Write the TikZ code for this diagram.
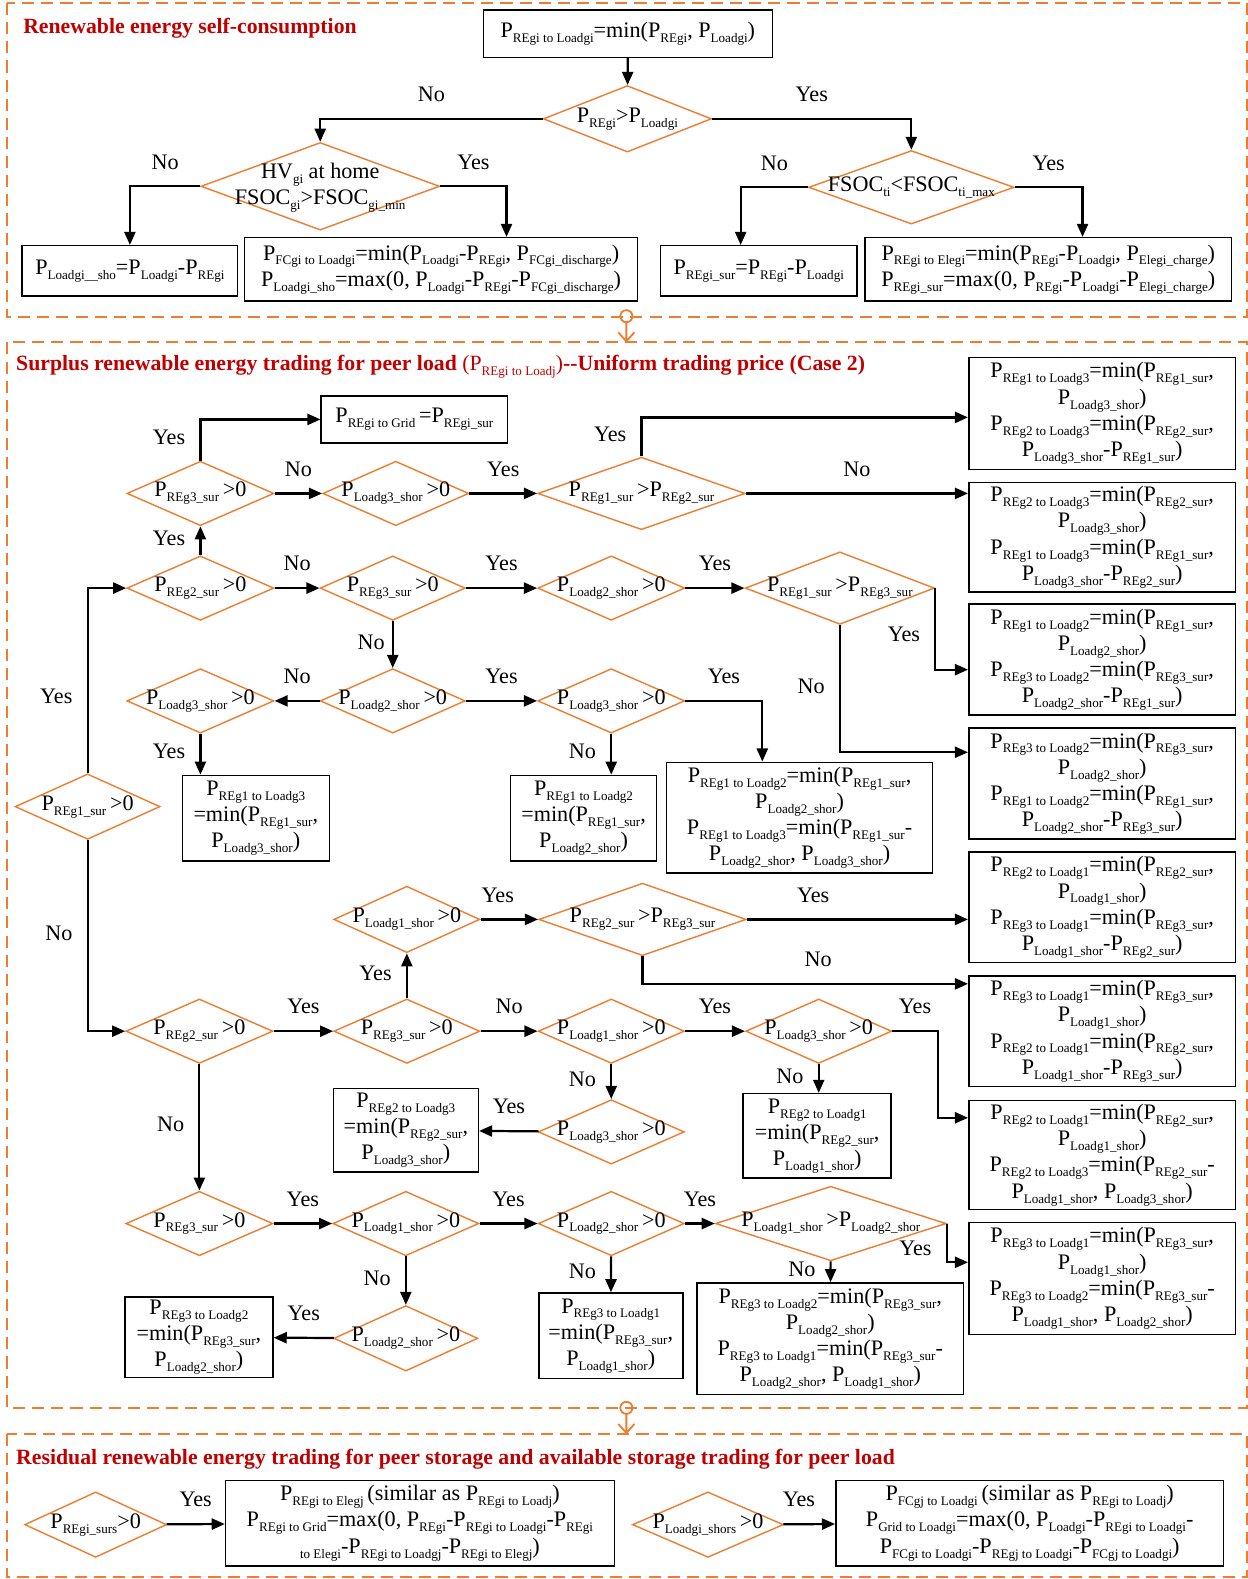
\documentclass[tikz,border=0pt]{standalone}
\usepackage{fontspec}
\setmainfont{Liberation Serif}
\usetikzlibrary{shapes.geometric,arrows.meta}

\definecolor{frameorange}{RGB}{237,125,49}
\definecolor{titlered}{RGB}{192,0,0}

\newcommand{\lowsub}[1]{\raisebox{-0.22em}{\fontsize{13}{13}\selectfont #1}}
\newcommand{\Pv}[1]{P\lowsub{#1}}
\newcommand{\dtext}[1]{\makebox[0pt]{#1}}

\tikzset{
  txt/.style={font=\fontsize{22}{26}\selectfont},
  dec/.style 2 args={diamond, draw=frameorange, line width=1.4pt, minimum width=#1, minimum height=#2, inner sep=0pt, txt},
  cbox/.style 2 args={draw, line width=1.5pt, minimum width=#1, minimum height=#2, inner sep=0pt, align=center, txt},
  lbl/.style={txt, inner sep=2pt, text height=14pt, text depth=5pt},
  secframe/.style={draw=frameorange, line width=1.8pt, dash pattern=on 12pt off 7pt},
  link/.style={draw=frameorange, line width=1.8pt},
  sectitle/.style={anchor=base west, text=titlered, inner sep=0pt, font=\fontsize{21.6}{26}\selectfont\bfseries},
}

\begin{document}
\begin{tikzpicture}[x=1pt, y=-1pt, line width=2.2pt, >={Triangle[length=13pt,width=11pt]}]
\useasboundingbox (0,0) rectangle (1239,1568);

% frames and links between them
\draw[secframe] (7,3) rectangle (1238,315);
\draw[secframe] (7,340) rectangle (1238,1398);
\draw[secframe] (7,1424) rectangle (1238,1566);
\draw[link] (622,314) circle[radius=6pt] (622,320) -- (622,339) (614,330) -- (622,339) -- (630,330);
\draw[link] (622,1398) circle[radius=6pt] (622,1404) -- (622,1423) (614,1414) -- (622,1423) -- (630,1414);

% Renewable energy self-consumption
\node[sectitle] (t1) at (22,33) {Renewable energy self-consumption};
\node[cbox={287}{47}] (a1) at (623.5,33.5) {\Pv{REgi to Loadgi}=min(\Pv{REgi}, \Pv{Loadgi})};
\node[dec={167}{66}] (d1) at (623,118) {\dtext{\Pv{REgi}>\Pv{Loadgi}}};
\node[dec={237}{87}] (d2) at (318,185) {\dtext{\begin{tabular}{@{}c@{}}HV\lowsub{gi} at home\\ FSOC\lowsub{gi}>FSOC\lowsub{gi\_min}\end{tabular}}};
\node[dec={204}{73}] (d3) at (905,186) {\dtext{FSOC\lowsub{ti}<FSOC\lowsub{ti\_max}}};
\node[cbox={214}{50}] (b1) at (129,269) {\Pv{Loadgi\_\_sho}=\Pv{Loadgi}-\Pv{REgi}};
\node[cbox={390}{63}] (b2) at (438,267.5) {\Pv{FCgi to Loadgi}=min(\Pv{Loadgi}-\Pv{REgi}, \Pv{FCgi\_discharge})\\ \Pv{Loadgi\_sho}=max(0, \Pv{Loadgi}-\Pv{REgi}-\Pv{FCgi\_discharge})};
\node[cbox={195}{50}] (b3) at (753.5,269) {\Pv{REgi\_sur}=\Pv{REgi}-\Pv{Loadgi}};
\node[cbox={364}{63}] (b4) at (1041,267.5) {\Pv{REgi to Elegi}=min(\Pv{REgi}-\Pv{Loadgi}, \Pv{Elegi\_charge})\\ \Pv{REgi\_sur}=max(0, \Pv{REgi}-\Pv{Loadgi}-\Pv{Elegi\_charge})};

\draw[->] (a1) -- (d1);
\draw[->] (d1.west) -| node[lbl,pos=.25,above=9pt]{No} (d2.north);
\draw[->] (d1.east) -| node[lbl,pos=.25,above=9pt]{Yes} (d3.north);
\draw[->] (d2.west) -| node[lbl,pos=.25,above=9pt]{No} (b1.north);
\draw[->] (d2.east) -| node[lbl,pos=.25,above=9pt]{Yes} ([xshift=65pt]b2.north);
\draw[->] (d3.west) -| node[lbl,pos=.25,above=9pt]{No} ([xshift=-18pt]b3.north);
\draw[->] (d3.east) -| node[lbl,pos=.25,above=9pt]{Yes} ([xshift=34pt]b4.north);

% Surplus renewable energy trading for peer load
\node[sectitle] (t2) at (15,368) {Surplus renewable energy trading for peer load {\mdseries(\Pv{REgi to Loadj})}-{}-Uniform trading price (Case 2)};
\node[dec={144}{65}] (r1s) at (87,801) {\dtext{\Pv{REg1\_sur}\,>0}};
\node[dec={146}{64}] (r2a) at (199,584) {\dtext{\Pv{REg2\_sur}\,>0}};
\node[dec={146}{64}] (r3a) at (199,490) {\dtext{\Pv{REg3\_sur}\,>0}};
\node[dec={145}{64}] (l3a) at (393,490) {\dtext{\Pv{Loadg3\_shor}\,>0}};
\node[dec={206}{72}] (c12) at (637,490) {\dtext{\Pv{REg1\_sur}\,>\Pv{REg2\_sur}}};
\node[dec={144}{64}] (r3b) at (390,584) {\dtext{\Pv{REg3\_sur}\,>0}};
\node[dec={146}{64}] (l2a) at (607,584) {\dtext{\Pv{Loadg2\_shor}\,>0}};
\node[dec={188}{72}] (c13) at (834,584) {\dtext{\Pv{REg1\_sur}\,>\Pv{REg3\_sur}}};
\node[dec={144}{64}] (l2b) at (390,696) {\dtext{\Pv{Loadg2\_shor}\,>0}};
\node[dec={146}{64}] (l3b) at (199,696) {\dtext{\Pv{Loadg3\_shor}\,>0}};
\node[dec={146}{64}] (l3c) at (607,696) {\dtext{\Pv{Loadg3\_shor}\,>0}};
\node[dec={146}{64}] (r2b) at (198,1024) {\dtext{\Pv{REg2\_sur}\,>0}};
\node[dec={145}{64}] (r3c) at (404,1024) {\dtext{\Pv{REg3\_sur}\,>0}};
\node[dec={145}{66}] (l1a) at (404,913) {\dtext{\Pv{Loadg1\_shor}\,>0}};
\node[dec={206}{72}] (c23) at (638,913) {\dtext{\Pv{REg2\_sur}\,>\Pv{REg3\_sur}}};
\node[dec={145}{64}] (l1b) at (607,1024) {\dtext{\Pv{Loadg1\_shor}\,>0}};
\node[dec={145}{64}] (l3d) at (813,1024) {\dtext{\Pv{Loadg3\_shor}\,>0}};
\node[dec={145}{64}] (l3e) at (607,1124) {\dtext{\Pv{Loadg3\_shor}\,>0}};
\node[dec={146}{64}] (r3d) at (198,1215) {\dtext{\Pv{REg3\_sur}\,>0}};
\node[dec={145}{64}] (l1c) at (403,1215) {\dtext{\Pv{Loadg1\_shor}\,>0}};
\node[dec={145}{64}] (l2c) at (607,1215) {\dtext{\Pv{Loadg2\_shor}\,>0}};
\node[dec={229}{74}] (cl12) at (825,1215) {\dtext{\Pv{Loadg1\_shor}\,>\Pv{Loadg2\_shor}}};
\node[dec={143}{65}] (l2d) at (403,1329) {\dtext{\Pv{Loadg2\_shor}\,>0}};

\node[cbox={185}{47}] (grid) at (411.5,416.5) {\Pv{REgi to Grid}\,=\Pv{REgi\_sur}};
\node[cbox={265}{111}] (bx1) at (1094.5,410.5) {\Pv{REg1 to Loadg3}=min(\Pv{REg1\_sur},\\ \Pv{Loadg3\_shor})\\ \Pv{REg2 to Loadg3}=min(\Pv{REg2\_sur},\\ \Pv{Loadg3\_shor}-\Pv{REg1\_sur})};
\node[cbox={265}{109}] (bx2) at (1094.5,533.5) {\Pv{REg2 to Loadg3}=min(\Pv{REg2\_sur},\\ \Pv{Loadg3\_shor})\\ \Pv{REg1 to Loadg3}=min(\Pv{REg1\_sur},\\ \Pv{Loadg3\_shor}-\Pv{REg2\_sur})};
\node[cbox={265}{110}] (bx3) at (1094.5,655) {\Pv{REg1 to Loadg2}=min(\Pv{REg1\_sur},\\ \Pv{Loadg2\_shor})\\ \Pv{REg3 to Loadg2}=min(\Pv{REg3\_sur},\\ \Pv{Loadg2\_shor}-\Pv{REg1\_sur})};
\node[cbox={265}{110}] (bx4) at (1094.5,778) {\Pv{REg3 to Loadg2}=min(\Pv{REg3\_sur},\\ \Pv{Loadg2\_shor})\\ \Pv{REg1 to Loadg2}=min(\Pv{REg1\_sur},\\ \Pv{Loadg2\_shor}-\Pv{REg3\_sur})};
\node[cbox={265}{110}] (bx5) at (1094.5,901) {\Pv{REg2 to Loadg1}=min(\Pv{REg2\_sur},\\ \Pv{Loadg1\_shor})\\ \Pv{REg3 to Loadg1}=min(\Pv{REg3\_sur},\\ \Pv{Loadg1\_shor}-\Pv{REg2\_sur})};
\node[cbox={265}{110}] (bx6) at (1094.5,1024) {\Pv{REg3 to Loadg1}=min(\Pv{REg3\_sur},\\ \Pv{Loadg1\_shor})\\ \Pv{REg2 to Loadg1}=min(\Pv{REg2\_sur},\\ \Pv{Loadg1\_shor}-\Pv{REg3\_sur})};
\node[cbox={265}{108}] (bx7) at (1094.5,1147) {\Pv{REg2 to Loadg1}=min(\Pv{REg2\_sur},\\ \Pv{Loadg1\_shor})\\ \Pv{REg2 to Loadg3}=min(\Pv{REg2\_sur}-\\ \Pv{Loadg1\_shor}, \Pv{Loadg3\_shor})};
\node[cbox={265}{111}] (bx8) at (1094.5,1269.5) {\Pv{REg3 to Loadg1}=min(\Pv{REg3\_sur},\\ \Pv{Loadg1\_shor})\\ \Pv{REg3 to Loadg2}=min(\Pv{REg3\_sur}-\\ \Pv{Loadg1\_shor}, \Pv{Loadg2\_shor})};
\node[cbox={264}{110}] (bm1) at (794,812) {\Pv{REg1 to Loadg2}=min(\Pv{REg1\_sur},\\ \Pv{Loadg2\_shor})\\ \Pv{REg1 to Loadg3}=min(\Pv{REg1\_sur}-\\ \Pv{Loadg2\_shor}, \Pv{Loadg3\_shor})};
\node[cbox={265}{111}] (bm2) at (824.5,1329.5) {\Pv{REg3 to Loadg2}=min(\Pv{REg3\_sur},\\ \Pv{Loadg2\_shor})\\ \Pv{REg3 to Loadg1}=min(\Pv{REg3\_sur}-\\ \Pv{Loadg2\_shor}, \Pv{Loadg1\_shor})};
\node[cbox={146}{85}] (bl1) at (254,812.5) {\Pv{REg1 to Loadg3}\\ =min(\Pv{REg1\_sur},\\ \Pv{Loadg3\_shor})};
\node[cbox={145}{85}] (bl2) at (579.5,812.5) {\Pv{REg1 to Loadg2}\\ =min(\Pv{REg1\_sur},\\ \Pv{Loadg2\_shor})};
\node[cbox={144}{83}] (bl3) at (403,1122.5) {\Pv{REg2 to Loadg3}\\ =min(\Pv{REg2\_sur},\\ \Pv{Loadg3\_shor})};
\node[cbox={147}{84}] (bl4) at (811.5,1128) {\Pv{REg2 to Loadg1}\\ =min(\Pv{REg2\_sur},\\ \Pv{Loadg1\_shor})};
\node[cbox={147}{80}] (bl5) at (197.5,1328) {\Pv{REg3 to Loadg2}\\ =min(\Pv{REg3\_sur},\\ \Pv{Loadg2\_shor})};
\node[cbox={143}{85}] (bl6) at (606.5,1326.5) {\Pv{REg3 to Loadg1}\\ =min(\Pv{REg3\_sur},\\ \Pv{Loadg1\_shor})};

\draw[->] (r1s.north) |- node[lbl,pos=.2,left=12pt]{Yes} (r2a.west);
\draw[->] (r1s.south) |- node[lbl,pos=.25,left=12pt]{No} (r2b.west);
\path[->] (r2a) edge node[lbl,above=9pt]{No} (r3b);
\path[->] (r2a) edge node[lbl,left=12pt]{Yes} (r3a);
\draw[->] (r3a.north) |- node[lbl,pos=.25,left=12pt]{Yes} (grid.west);
\path[->] (r3a) edge node[lbl,above=9pt]{No} (l3a);
\path[->] (l3a) edge node[lbl,above=9pt]{Yes} (c12);
\draw[->] (c12.north) |- node[lbl,pos=.25,left=12pt]{Yes} ([yshift=-4pt]bx1.west);
\draw[->] (c12.east) -- node[lbl,above=9pt]{No} (c12.east -| bx2.west);
\path[->] (r3b) edge node[lbl,above=9pt]{Yes} (l2a);
\path[->] (l2a) edge node[lbl,above=9pt]{Yes} (c13);
\draw[->] (c13.east) |- node[lbl,pos=.3,left=12pt]{Yes} ([yshift=-10pt]bx3.west);
\draw[->] (c13.south) |- node[lbl,pos=.25,left=12pt]{No} ([yshift=31pt]bx4.west);
\path[->] (r3b) edge node[lbl,left=5pt]{No} (l2b);
\path[->] (l2b) edge node[lbl,above=9pt]{No} (l3b);
\draw[->] (l3b.south) -- node[lbl,left=12pt]{Yes} (l3b.south |- bl1.north);
\path[->] (l2b) edge node[lbl,above=9pt]{Yes} (l3c);
\draw[->] (l3c.south) -- node[lbl,left=12pt]{No} (l3c.south |- bl2.north);
\draw[->] (l3c.east) -| node[lbl,pos=.25,above=9pt]{Yes} ([xshift=-37pt]bm1.north);

\path[->] (r2b) edge node[lbl,above=9pt]{Yes} (r3c);
\path[->] (r3c) edge node[lbl,left=12pt]{Yes} (l1a);
\path[->] (l1a) edge node[lbl,pos=.3,above=9pt]{Yes} (c23);
\draw[->] (c23.east) -- node[lbl,pos=.3,above=9pt]{Yes} (c23.east -| bx5.west);
\draw[->] (c23.south) |- node[lbl,pos=.77,above=9pt]{No} ([yshift=47pt]bx6.west);
\path[->] (r3c) edge node[lbl,above=9pt]{No} (l1b);
\path[->] (l1b) edge node[lbl,above=9pt]{Yes} (l3d);
\draw[->] (l3d.east) -- node[lbl,above=9pt]{Yes} ++(45,0) |- ([yshift=37pt]bx7.west);
\draw[->] (l3d.south) -- node[lbl,left=12pt]{No} (l3d.south |- bl4.north);
\path[->] (l1b) edge node[lbl,left=12pt]{No} (l3e);
\path[->] (l3e) edge node[lbl,above=9pt]{Yes} (bl3);
\path[->] (r2b) edge node[lbl,left=12pt]{No} (r3d);
\path[->] (r3d) edge node[lbl,above=9pt]{Yes} (l1c);
\path[->] (l1c) edge node[lbl,above=9pt]{Yes} (l2c);
\path[->] (l2c) edge node[lbl,above=9pt]{Yes} (cl12);
\draw[->] (cl12.east) |- node[lbl,pos=.35,left=12pt]{Yes} ([yshift=16pt]bx8.west);
\path[->] (cl12) edge node[lbl,left=12pt]{No} (bm2);
\path[->] (l2c) edge node[lbl,left=12pt]{No} (bl6);
\path[->] (l1c) edge node[lbl,left=12pt]{No} (l2d);
\path[->] (l2d) edge node[lbl,above=9pt]{Yes} (bl5);

% Residual renewable energy trading
\node[sectitle] (t3) at (15,1454) {Residual renewable energy trading for peer storage and available storage trading for peer load};
\node[dec={141}{65}] (s1d) at (95,1514) {\dtext{\Pv{REgi\_surs}>0}};
\node[dec={150}{65}] (s2d) at (703,1514) {\dtext{\Pv{Loadgi\_shors}\,>0}};
\node[cbox={386}{85}] (s1b) at (417,1512.5) {\Pv{REgi to Elegj}\,(similar as \Pv{REgi to Loadj})\\ \Pv{REgi to Grid}=max(0, \Pv{REgi}-\Pv{REgi to Loadgi}-\Pv{REgi}\\ \lowsub{to Elegi}-\Pv{REgi to Loadgj}-\Pv{REgi to Elegj})};
\node[cbox={385}{85}] (s2b) at (1022.5,1512.5) {\Pv{FCgj to Loadgi}\,(similar as \Pv{REgi to Loadj})\\ \Pv{Grid to Loadgi}=max(0, \Pv{Loadgi}-\Pv{REgi to Loadgi}-\\ \Pv{FCgi to Loadgi}-\Pv{REgj to Loadgi}-\Pv{FCgj to Loadgi})};

\path[->] (s1d) edge node[lbl,above=9pt]{Yes} (s1b);
\path[->] (s2d) edge node[lbl,pos=.3,above=9pt]{Yes} (s2b);
\end{tikzpicture}
\end{document}
